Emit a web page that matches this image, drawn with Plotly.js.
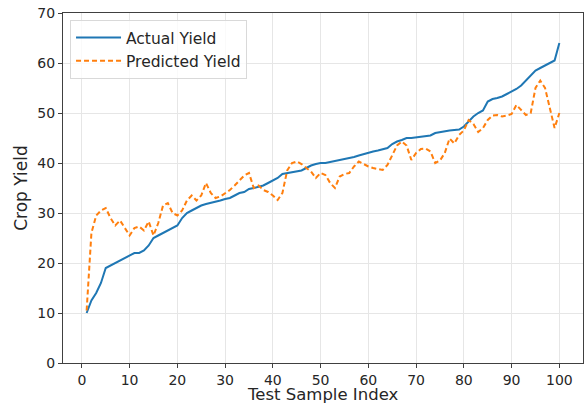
<!DOCTYPE html>
<html>
<head>
<meta charset="utf-8">
<script src="https://cdn.plot.ly/plotly-3.0.1.min.js"></script>
<style>html,body{margin:0;padding:0;background:#fff;}#chart{width:584px;height:405px;}</style>
</head>
<body>
<div id="chart"></div>
<script>
const sampleIndex = Array.from({length: 100}, (_, i) => i + 1);

const actualYield = [
  10, 12.5, 14, 16, 19, 19.5, 20, 20.5, 21, 21.5,
  22, 22, 22.5, 23.5, 25, 25.5, 26, 26.5, 27, 27.5,
  29, 30, 30.5, 31, 31.5, 31.8, 32, 32.2, 32.5, 32.8,
  33, 33.5, 34, 34.2, 34.8, 35, 35.2, 35.5, 36, 36.5,
  37, 37.8, 38, 38.2, 38.3, 38.5, 39, 39.5, 39.8, 40,
  40, 40.2, 40.3, 40.5, 40.8, 41, 41.2, 41.5, 41.8, 42,
  42.3, 42.5, 42.7, 43, 43.8, 44.3, 44.6, 45, 45, 45.1,
  45.2, 45.3, 45.5, 46, 46.2, 46.3, 46.5, 46.6, 46.7, 47.3,
  48.3, 49.3, 50, 50.5, 52.3, 52.8, 53, 53.3, 53.8, 54.3,
  54.8, 55.5, 56.5, 57.5, 58.5, 59, 59.5, 60, 60.5, 64
];

const predictedYield = [
  10.5, 26, 29.5, 30.5, 31, 29, 27.5, 28.5, 27, 25.5,
  27, 27.3, 26.5, 28.3, 25.5, 28, 31.5, 32, 30, 29.5,
  30.5, 32.5, 33.5, 32.5, 33.5, 36, 34, 33, 33.3, 34,
  34.6, 35.5, 36.5, 37.5, 38, 35, 35.5, 34.6, 34.2, 33.5,
  32.6, 34, 38.5, 40, 40.3, 39.8, 39, 38.3, 37, 38,
  37.6, 36, 35, 37.3, 37.8, 38, 39.3, 40.3, 39.8, 39.3,
  39, 38.8, 38.6, 39.6, 41.5, 43.5, 44.3, 43.5, 40.6, 42,
  42.8, 42.9, 42.3, 40, 40.5, 42, 44.9, 43.9, 45.6, 46.5,
  48.6, 47.8, 46.2, 47, 48.6, 49.5, 49.6, 49.3, 49.5, 49.8,
  51.6, 50.5, 49.6, 50, 55, 56.5, 55, 51, 47, 50
];

const xTicks = [0, 10, 20, 30, 40, 50, 60, 70, 80, 90, 100];
const yTicks = [0, 10, 20, 30, 40, 50, 60, 70];
const xTitle = 'Test Sample Index';
const yTitle = 'Crop Yield';

const FAMILY = 'DejaVu Sans, sans-serif';
const tickFont = {family: FAMILY, size: 14, color: '#262626'};
const labelFont = {family: FAMILY, size: 17, color: '#262626'};

const traces = [
  {x: sampleIndex, y: actualYield, type: 'scatter', mode: 'lines', name: 'Actual Yield',
   line: {color: '#1f77b4', width: 2}},
  {x: sampleIndex, y: predictedYield, type: 'scatter', mode: 'lines', name: 'Predicted Yield',
   line: {color: '#ff7f0e', width: 2, dash: '5px,3px'}}
];

const axisBase = {
  showline: true, linecolor: '#404040', linewidth: 1, mirror: true,
  ticks: 'outside', ticklen: 4, tickwidth: 1, tickcolor: '#404040',
  showgrid: true, gridcolor: '#e6e6e6', gridwidth: 1,
  zeroline: false, tickfont: tickFont
};

const layout = {
  width: 584, height: 405,
  margin: {l: 63, r: 1, t: 13, b: 42},
  paper_bgcolor: '#ffffff', plot_bgcolor: '#ffffff',
  font: tickFont,
  showlegend: true,
  legend: {x: 0.0135, y: 0.98, xanchor: 'left', yanchor: 'top',
           bgcolor: 'rgba(255,255,255,0.8)', bordercolor: '#d9d9d9', borderwidth: 1,
           font: {family: FAMILY, size: 15.5, color: '#262626'},
           itemwidth: 45, tracegroupgap: 0},
  xaxis: Object.assign({}, axisBase, {
    range: [-3.95, 104.95], tickvals: xTicks, ticktext: xTicks.map(String)
  }),
  yaxis: Object.assign({}, axisBase, {
    range: [0, 70], tickvals: yTicks, ticktext: yTicks.map(String),
    title: {text: yTitle, font: labelFont, standoff: 5}
  }),
  annotations: [{
    text: xTitle, xref: 'paper', yref: 'paper', x: 0.5, y: -0.12,
    xanchor: 'center', yanchor: 'bottom', borderpad: 0, showarrow: false,
    font: {family: FAMILY, size: 16.5, color: '#262626'}
  }]
};

Plotly.newPlot('chart', traces, layout, {staticPlot: true, displayModeBar: false});
</script>
</body>
</html>
